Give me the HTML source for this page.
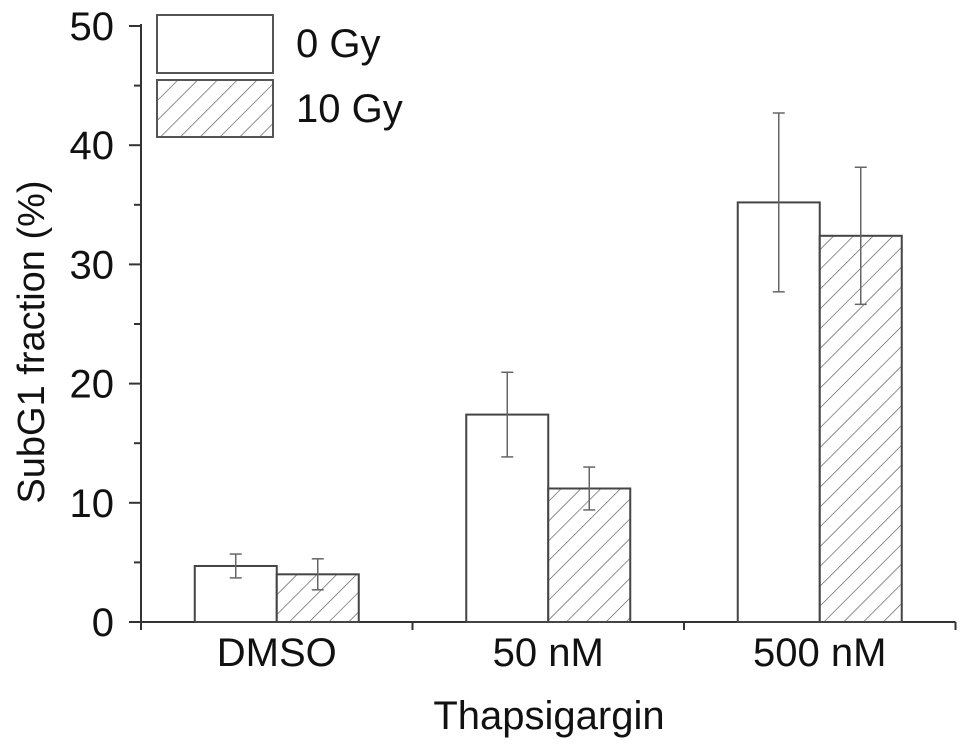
<!DOCTYPE html>
<html><head><meta charset="utf-8"><style>
html,body{margin:0;padding:0;background:#fff;}
svg{display:block;font-family:"Liberation Sans",Arial,sans-serif;}
</style></head><body>
<svg id="chart" width="971" height="747" viewBox="0 0 971 747">
<defs>
<pattern id="hatch" patternUnits="userSpaceOnUse" width="14" height="14" patternTransform="rotate(45)">
<rect width="14" height="14" fill="#fff"/>
<line x1="0" y1="0" x2="0" y2="14" stroke="#555" stroke-width="1.3"/>
</pattern>
</defs>
<g id="axes"></g>
<g id="bars"></g>
<g id="legend">
<rect x="157" y="15" width="116" height="58" fill="#fff" stroke="#555" stroke-width="2"/>
<text x="296" y="57" font-size="40" fill="#111">0 Gy</text>
<rect x="157" y="80" width="116" height="57" fill="url(#hatch)" stroke="#555" stroke-width="2"/>
<text x="296" y="122" font-size="40" fill="#111">10 Gy</text>
</g>
</svg>
<script>
const categories = ["DMSO", "50 nM", "500 nM"];
const values0Gy = [4.7, 17.4, 35.2];
const errors0Gy = [1.0, 3.55, 7.5];
const values10Gy = [4.0, 11.2, 32.4];
const errors10Gy = [1.3, 1.8, 5.75];
const yTicks = [0, 10, 20, 30, 40, 50];

const NS = "http://www.w3.org/2000/svg";
const x0 = 141, yBase = 622, yTop = 26, yMax = 50;
const groupW = 271.5, barW = 82;
const y = v => yBase - v / yMax * (yBase - yTop);
const gx = i => x0 + groupW * (i + 0.5);
function mk(tag, attrs, parent, txt) {
  const e = document.createElementNS(NS, tag);
  for (const k in attrs) e.setAttribute(k, attrs[k]);
  if (txt !== undefined) e.textContent = txt;
  parent.appendChild(e);
  return e;
}
const axes = document.getElementById("axes");
const bars = document.getElementById("bars");
let e;
e = mk("line", {x1: x0, y1: yTop - 2, x2: x0, y2: yBase + 8, stroke: "#333", "stroke-width": 2}, axes);


const xEnd = x0 + groupW * categories.length;
e = mk("line", {x1: x0 - 12, y1: yBase, x2: xEnd, y2: yBase, stroke: "#333", "stroke-width": 2}, axes);


yTicks.forEach((t, i) => {
  e = mk("line", {x1: x0 - 12, y1: y(t), x2: x0, y2: y(t), stroke: "#333", "stroke-width": 2}, axes);
  
  
  if (i < yTicks.length - 1) {
    const m = (t + yTicks[i + 1]) / 2;
    e = mk("line", {x1: x0 - 7, y1: y(m), x2: x0, y2: y(m), stroke: "#333", "stroke-width": 2}, axes);
    
    
  }
  e = mk("text", {x: 114, y: y(t) + 14, "font-size": 40, "text-anchor": "end", fill: "#111"}, axes, String(t));
  
  
});
for (let i = 0; i <= categories.length; i++) {
  e = mk("line", {x1: x0 + groupW * i, y1: yBase, x2: x0 + groupW * i, y2: yBase + 8, stroke: "#333", "stroke-width": 2}, axes);
  
  
}
categories.forEach((c, i) => {
  e = mk("text", {x: gx(i), y: 666, "font-size": 40, "text-anchor": "middle", fill: "#111"}, axes, c);
  
  
});
e = mk("text", {x: 549, y: 729, "font-size": 40, "text-anchor": "middle", fill: "#111"}, axes, "Thapsigargin");


e = mk("text", {x: 0, y: 0, "font-size": 38, "text-anchor": "middle", fill: "#111", transform: "translate(44,342) rotate(-90)"}, axes, "SubG1 fraction (%)");



function drawBar(cx, v, err, fill, name) {
  e = mk("rect", {x: cx, y: y(v), width: barW, height: yBase - y(v), fill: fill, stroke: "#444", "stroke-width": 2}, bars);
  
  
  const mx = cx + barW / 2;
  const g = mk("g", {stroke: "#666", "stroke-width": 1.5}, bars);
  
  
  mk("line", {x1: mx, y1: y(v + err), x2: mx, y2: y(v - err)}, g);
  mk("line", {x1: mx - 6, y1: y(v + err), x2: mx + 6, y2: y(v + err)}, g);
  mk("line", {x1: mx - 6, y1: y(v - err), x2: mx + 6, y2: y(v - err)}, g);
}
categories.forEach((c, i) => {
  drawBar(gx(i) - barW, values0Gy[i], errors0Gy[i], "#fff", "bar-0gy-" + i);
  drawBar(gx(i), values10Gy[i], errors10Gy[i], "url(#hatch)", "bar-10gy-" + i);
});
</script>
</body></html>
